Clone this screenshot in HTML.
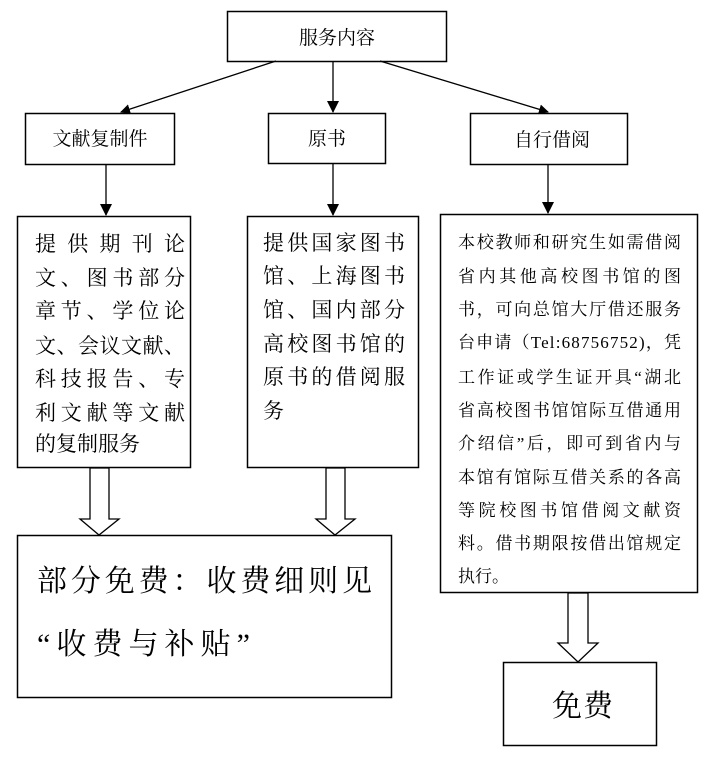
<!DOCTYPE html>
<html><head><meta charset="utf-8"><style>
html,body{margin:0;padding:0;background:#fff;}
svg{display:block;}
text{font-family:"Liberation Serif","Noto Serif CJK SC",serif;fill:#000;}
</style></head><body>
<svg width="712" height="760" viewBox="0 0 712 760" xmlns="http://www.w3.org/2000/svg">
<defs><marker id="a" markerWidth="10" markerHeight="10" refX="9" refY="5" orient="auto" markerUnits="userSpaceOnUse"><path d="M0,0 L10,5 L0,10 z" fill="#000"/></marker>
<marker id="v" markerWidth="12" markerHeight="12" refX="11" refY="6" orient="auto" markerUnits="userSpaceOnUse"><path d="M0,0 L12,6 L0,12 z" fill="#000"/></marker></defs>
<g fill="#fff" stroke="#000" stroke-width="1.5">
<rect x="227.5" y="11.5" width="219" height="50"/>
<rect x="25.5" y="113.5" width="149" height="51"/>
<rect x="268.5" y="113.5" width="117" height="50"/>
<rect x="470.5" y="113.5" width="157" height="51"/>
<rect x="17.5" y="216.5" width="173" height="251"/>
<rect x="247.5" y="216.5" width="171" height="251"/>
<rect x="440.5" y="214.5" width="257" height="378"/>
<rect x="17.5" y="535.5" width="374" height="162"/>
<rect x="503.5" y="662.5" width="153" height="83"/>
</g>
<g stroke="#000" stroke-width="1.3" fill="none">
<line x1="276" y1="61" x2="121" y2="112" marker-end="url(#a)"/>
<line x1="333" y1="62" x2="333" y2="112" marker-end="url(#v)"/>
<line x1="380" y1="61" x2="548" y2="112" marker-end="url(#a)"/>
<line x1="106" y1="165" x2="106" y2="215" marker-end="url(#v)"/>
<line x1="333" y1="164" x2="333" y2="215" marker-end="url(#v)"/>
<line x1="548" y1="165" x2="548" y2="213" marker-end="url(#v)"/>
</g>
<g fill="#fff" stroke="#000" stroke-width="1.3">
<path d="M90,468 L109,468 L109,519 L119,519 L99,535 L80,519 L90,519 Z"/>
<path d="M326,468 L345,468 L345,519 L355,519 L335,535 L316,519 L326,519 Z"/>
<path d="M568,593 L588,593 L588,643 L598,643 L578,662 L558,643 L568,643 Z"/>
</g>
<text x="337" y="44" font-size="19" text-anchor="middle">服务内容</text>
<text x="100" y="145" font-size="19" text-anchor="middle">文献复制件</text>
<text x="327" y="145" font-size="19" text-anchor="middle">原书</text>
<text x="552" y="146" font-size="19" text-anchor="middle">自行借阅</text>
<g font-size="21">
<text x="35" y="251" textLength="150" lengthAdjust="spacing">提供期刊论</text>
<text x="35" y="285" textLength="150" lengthAdjust="spacing">文、图书部分</text>
<text x="35" y="318" textLength="150" lengthAdjust="spacing">章节、学位论</text>
<text x="35" y="353" textLength="150" lengthAdjust="spacing">文、会议文献、</text>
<text x="35" y="386" textLength="150" lengthAdjust="spacing">科技报告、专</text>
<text x="35" y="420" textLength="150" lengthAdjust="spacing">利文献等文献</text>
<text x="35" y="451">的复制服务</text>
<text x="263" y="250" textLength="142" lengthAdjust="spacing">提供国家图书</text>
<text x="263" y="283" textLength="142" lengthAdjust="spacing">馆、上海图书</text>
<text x="263" y="317" textLength="142" lengthAdjust="spacing">馆、国内部分</text>
<text x="263" y="351" textLength="142" lengthAdjust="spacing">高校图书馆的</text>
<text x="263" y="384" textLength="142" lengthAdjust="spacing">原书的借阅服</text>
<text x="263" y="418">务</text>
</g>
<g font-size="17">
<text x="458" y="248" textLength="223" lengthAdjust="spacing">本校教师和研究生如需借阅</text>
<text x="458" y="282" textLength="223" lengthAdjust="spacing">省内其他高校图书馆的图</text>
<text x="458" y="315" textLength="223" lengthAdjust="spacing">书，可向总馆大厅借还服务</text>
<text x="458" y="348" textLength="223" lengthAdjust="spacing">台申请（Tel:68756752)，凭</text>
<text x="458" y="383" textLength="223" lengthAdjust="spacing">工作证或学生证开具“湖北</text>
<text x="458" y="416" textLength="223" lengthAdjust="spacing">省高校图书馆馆际互借通用</text>
<text x="458" y="449" textLength="223" lengthAdjust="spacing">介绍信”后，即可到省内与</text>
<text x="458" y="483" textLength="223" lengthAdjust="spacing">本馆有馆际互借关系的各高</text>
<text x="458" y="516" textLength="223" lengthAdjust="spacing">等院校图书馆借阅文献资</text>
<text x="458" y="549" textLength="223" lengthAdjust="spacing">料。借书期限按借出馆规定</text>
<text x="458" y="582">执行。</text>
</g>
<text x="37" y="591" font-size="30" textLength="335" lengthAdjust="spacing">部分免费：收费细则见</text>
<text x="37" y="654" font-size="30" textLength="213" lengthAdjust="spacing">“收费与补贴”</text>
<text x="552" y="716" font-size="30" textLength="61" lengthAdjust="spacing">免费</text>
</svg>
</body></html>
